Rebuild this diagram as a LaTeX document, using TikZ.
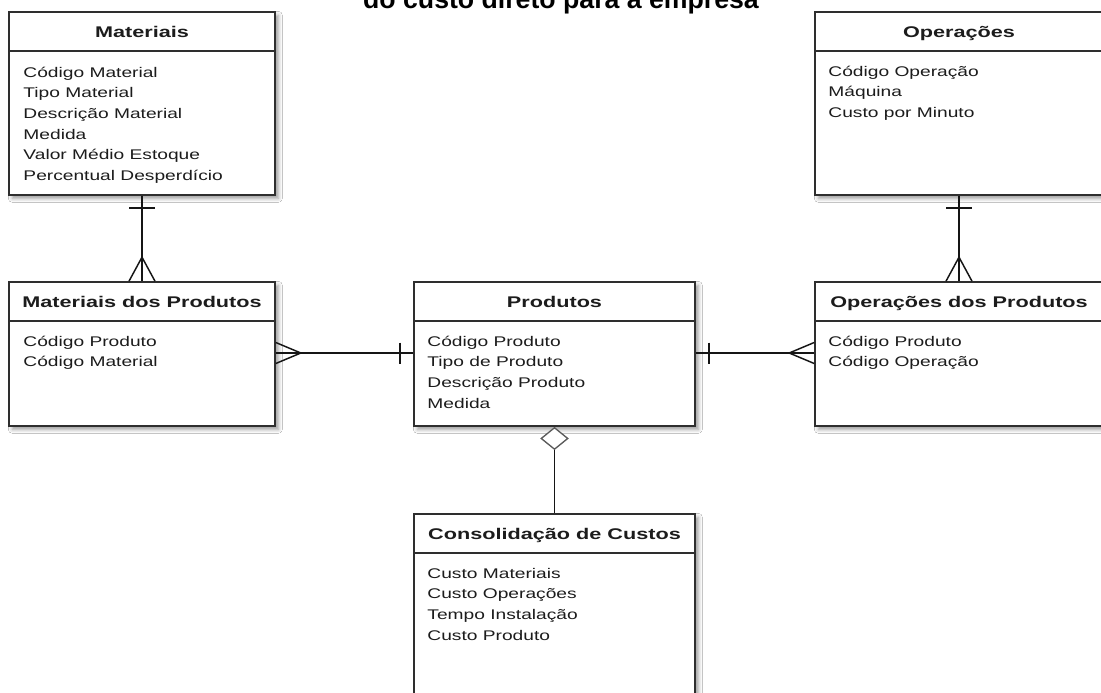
\documentclass[tikz,border=0pt]{standalone}
\usepackage{fontspec}
\setmainfont{Liberation Sans}
\newfontfamily\erfont[FakeStretch=1.37]{Liberation Sans}
\newfontfamily\erhead[FakeStretch=1.4]{Liberation Sans}
\usetikzlibrary{calc,shapes.geometric,shadows.blur}

\definecolor{boxline}{HTML}{2E2E2E}
\definecolor{ink}{HTML}{1C1C1C}
\definecolor{linkcol}{HTML}{151515}
\definecolor{aggline}{HTML}{5A5A5A}

% attribute list: rows separated by \cr, baseline of the whole block = first row
\newcommand\fieldrows[1]{\vtop{\baselineskip=15.45pt\lineskiplimit=-20pt\halign{##\hfil\cr#1\crcr}}}

\tikzset{
  entity/.style={draw=boxline, line width=1.2pt, fill=white, inner sep=0pt,
    blur shadow={shadow xshift=2.5pt, shadow yshift=-2.5pt,
                 shadow blur radius=3pt, shadow opacity=40}},
  headrule/.style={draw=boxline, line width=1.2pt},
  headtext/.style={anchor=base, inner sep=0pt, text=ink,
    font=\erhead\bfseries\fontsize{11.6}{14}\selectfont},
  fieldtext/.style={anchor=base west, inner sep=0pt, text=ink,
    font=\erfont\fontsize{10.5}{15.45}\selectfont},
  link/.style={draw=linkcol, line width=1.1pt},
  aggmark/.style={diamond, draw=aggline, line width=1pt, fill=white, inner sep=0pt,
    minimum width=27*0.75pt, minimum height=22*0.75pt},
}

\begin{document}
\begin{tikzpicture}[x=0.75pt, y=-0.75pt]
\useasboundingbox (0,0) rectangle (1101,693);
\clip (0,0) rectangle (1101,693);
\fill[white] (0,0) rectangle (1101,693);

% caption line
\node[anchor=base, inner sep=0pt, font=\bfseries\fontsize{20}{24}\selectfont] (title)
  at (561,8) {do custo direto para a empresa};

% ---- entity boxes ----
\node[entity, minimum width=266*0.75pt, minimum height=183*0.75pt] (mat)  at (142,103.5) {};
\node[entity, minimum width=288*0.75pt, minimum height=183*0.75pt] (ope)  at (959,103.5) {};
\node[entity, minimum width=266*0.75pt, minimum height=144*0.75pt] (matp) at (142,354) {};
\node[entity, minimum width=281*0.75pt, minimum height=144*0.75pt] (prod) at (554.5,354) {};
\node[entity, minimum width=288*0.75pt, minimum height=144*0.75pt] (opep) at (959,354) {};
\node[entity, minimum width=281*0.75pt, minimum height=246*0.75pt] (cons) at (554.5,637) {};

% header separators
\foreach \e in {mat,ope,matp,prod,opep,cons}
  \draw[headrule] ($(\e.north west)+(0,40)$) -- ($(\e.north east)+(0,40)$);

% titles
\node[headtext] (matT)  at ($(mat.north)+(0,26)$)  {Materiais};
\node[headtext] (opeT)  at ($(ope.north)+(0,26)$)  {Operações};
\node[headtext] (matpT) at ($(matp.north)+(0,26)$) {Materiais dos Produtos};
\node[headtext] (prodT) at ($(prod.north)+(0,26)$) {Produtos};
\node[headtext] (opepT) at ($(opep.north)+(0,26)$) {Operações dos Produtos};
\node[headtext] (consT) at ($(cons.north)+(0,26)$) {Consolidação de Custos};

% attributes
\node[fieldtext] (matF) at ($(mat.north west)+(15,66)$) {\fieldrows{%
  Código Material\cr Tipo Material\cr Descrição Material\cr Medida\cr
  Valor Médio Estoque\cr Percentual Desperdício}};
\node[fieldtext] (opeF) at ($(ope.north west)+(14,65)$) {\fieldrows{%
  Código Operação\cr Máquina\cr Custo por Minuto}};
\node[fieldtext] (matpF) at ($(matp.north west)+(15,65)$) {\fieldrows{%
  Código Produto\cr Código Material}};
\node[fieldtext] (prodF) at ($(prod.north west)+(14,65)$) {\fieldrows{%
  Código Produto\cr Tipo de Produto\cr Descrição Produto\cr Medida}};
\node[fieldtext] (opepF) at ($(opep.north west)+(14,65)$) {\fieldrows{%
  Código Produto\cr Código Operação}};
\node[fieldtext] (consF) at ($(cons.north west)+(14,65)$) {\fieldrows{%
  Custo Materiais\cr Custo Operações\cr Tempo Instalação\cr Custo Produto}};

% ---- relationships ----
% Materiais 1 -- N Materiais dos Produtos
\draw[link] (mat.south) -- (matp.north);
\draw[link] ($(mat.south)+(-13,12)$) -- ($(mat.south)+(13,12)$);
\draw[link] ($(matp.north)+(-13,0)$) -- ($(matp.north)+(0,-24)$) -- ($(matp.north)+(13,0)$);

% Operações 1 -- N Operações dos Produtos
\draw[link] (ope.south) -- (opep.north);
\draw[link] ($(ope.south)+(-13,12)$) -- ($(ope.south)+(13,12)$);
\draw[link] ($(opep.north)+(-13,0)$) -- ($(opep.north)+(0,-24)$) -- ($(opep.north)+(13,0)$);

% Materiais dos Produtos N -- 1 Produtos
\draw[link] ($(matp.east)+(0,-1)$) -- ($(prod.west)+(0,-1)$);
\draw[link] ($(matp.east)+(0,-11.5)$) -- ($(matp.east)+(25,-1)$) -- ($(matp.east)+(0,9.5)$);
\draw[link] ($(prod.west)+(-13,-11.5)$) -- ($(prod.west)+(-13,9.5)$);

% Produtos 1 -- N Operações dos Produtos
\draw[link] ($(prod.east)+(0,-1)$) -- ($(opep.west)+(0,-1)$);
\draw[link] ($(prod.east)+(13,-11.5)$) -- ($(prod.east)+(13,9.5)$);
\draw[link] ($(opep.west)+(0,-11.5)$) -- ($(opep.west)+(-25,-1)$) -- ($(opep.west)+(0,9.5)$);

% Produtos <>-- Consolidação de Custos
\node[aggmark, anchor=north] (agg) at (prod.south) {};
\draw[link] (agg.south) -- (cons.north);
\end{tikzpicture}
\end{document}
